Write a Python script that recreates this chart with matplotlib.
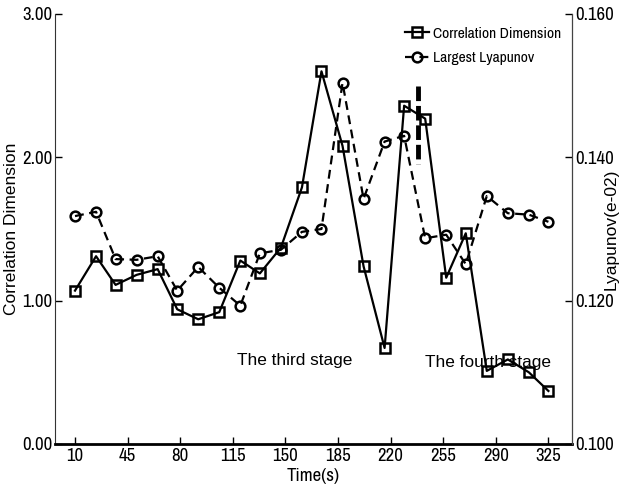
import matplotlib
matplotlib.use("Agg")
import matplotlib.pyplot as plt
from matplotlib import font_manager as fm
from matplotlib.ticker import FormatStrFormatter

# Sampling times (s)
time_s = [10, 24, 37, 51, 65, 78, 92, 106, 120, 133, 147, 161,
          174, 188, 202, 216, 229, 243, 257, 270, 284, 298, 312, 325]

# Correlation dimension per window
corr_dim = [1.07, 1.31, 1.11, 1.18, 1.22, 0.94, 0.87, 0.92, 1.28, 1.19, 1.37, 1.79,
            2.60, 2.08, 1.24, 0.67, 2.36, 2.27, 1.16, 1.47, 0.51, 0.59, 0.50, 0.37]

# Largest Lyapunov exponent (e-02)
lyap = [0.1318, 0.1324, 0.1258, 0.1257, 0.1262, 0.1214, 0.1247, 0.1218, 0.1193, 0.1266,
        0.1271, 0.1296, 0.1300, 0.1504, 0.1342, 0.1422, 0.1430, 0.1287, 0.1292, 0.1251,
        0.1346, 0.1322, 0.1320, 0.1310]

x_ticks = [10, 45, 80, 115, 150, 185, 220, 255, 290, 325]
left_ticks = [0.0, 1.0, 2.0, 3.0]
right_ticks = [0.100, 0.120, 0.140, 0.160]

# Stage boundary marker
boundary_x = [238, 238]
boundary_y = [2.50, 1.95]

# Pick a condensed face for ticks / legend if one is installed
regular = "Liberation Sans"
narrow_props = None
for f in fm.fontManager.ttflist:
    if "Narrow" in f.name or "Condensed" in f.name:
        if f.style == "normal" and f.weight in (400, "normal", "regular"):
            narrow_props = dict(family=f.name, stretch=f.stretch)
            break
if narrow_props is None:
    for f in fm.fontManager.ttflist:
        if f.stretch not in ("normal", 500) and f.style == "normal" and "Sans" in f.name:
            narrow_props = dict(family=f.name, stretch=f.stretch)
            break
if narrow_props is None:
    narrow_props = dict(family=regular)
    tick_size, leg_size = 11.5, 10
else:
    tick_size, leg_size = 13.5, 11.2

fig = plt.figure(figsize=(6.21, 4.87), dpi=100)
ax = fig.add_axes([0.0886, 0.0883, 0.8325, 0.883])
ax2 = ax.twinx()

l1, = ax.plot(time_s, corr_dim, color="black", lw=1.6, marker="s", ms=6.5,
              mfc="none", mec="black", mew=1.8, label="Correlation Dimension")
l2, = ax2.plot(time_s, lyap, color="black", lw=1.6, ls=(0, (4, 2.5)), marker="o",
               ms=7, mfc="none", mec="black", mew=1.8, label="Largest Lyapunov")
ax.plot(boundary_x, boundary_y, color="black", lw=3.5, ls=(0, (3, 1)))

ax.set_xlim(-3.3, 340.7)
ax.set_ylim(0, 3)
ax2.set_ylim(0.1, 0.16)
ax.set_xticks(x_ticks)
ax.set_yticks(left_ticks)
ax2.set_yticks(right_ticks)
ax.yaxis.set_major_formatter(FormatStrFormatter("%.2f"))
ax2.yaxis.set_major_formatter(FormatStrFormatter("%.3f"))

for a in (ax, ax2):
    a.spines["top"].set_visible(False)
    a.tick_params(direction="in", length=5, width=1, labelsize=tick_size, pad=2)
    for lab in a.get_xticklabels() + a.get_yticklabels():
        lab.set_fontfamily(narrow_props["family"])
        if "stretch" in narrow_props:
            lab.set_fontstretch(narrow_props["stretch"])
ax.spines["bottom"].set_linewidth(2)
ax.spines["left"].set_color("#333333")
ax2.spines["right"].set_color("#444444")
ax2.spines["left"].set_visible(False)
ax2.spines["bottom"].set_visible(False)
ax.tick_params(axis="x", pad=3)

ax.set_xlabel("Time(s)", fontsize=tick_size, labelpad=3, **narrow_props)
ax.set_ylabel("Correlation Dimension", fontfamily=regular, fontsize=12.5)
ax2.set_ylabel("Lyapunov(e-02)", fontfamily=regular, fontsize=12.5, rotation=90)
ax.yaxis.set_label_coords(-0.0696, 0.5)
ax2.yaxis.set_label_coords(1.062, 0.5)

ax.text(118, 0.585, "The third stage", fontfamily=regular, fontsize=12.4,
        va="center", ha="left")
ax.text(243, 0.57, "The fourth stage", fontfamily=regular, fontsize=12.4,
        va="center", ha="left")

leg = ax.legend(handles=[l1, l2], loc="upper left", bbox_to_anchor=(0.661, 0.988),
                frameon=False, borderpad=0, handlelength=1.6, handletextpad=0.2,
                labelspacing=0.65, prop=dict(size=leg_size, **narrow_props))

fig.savefig("out.png", dpi=100)
